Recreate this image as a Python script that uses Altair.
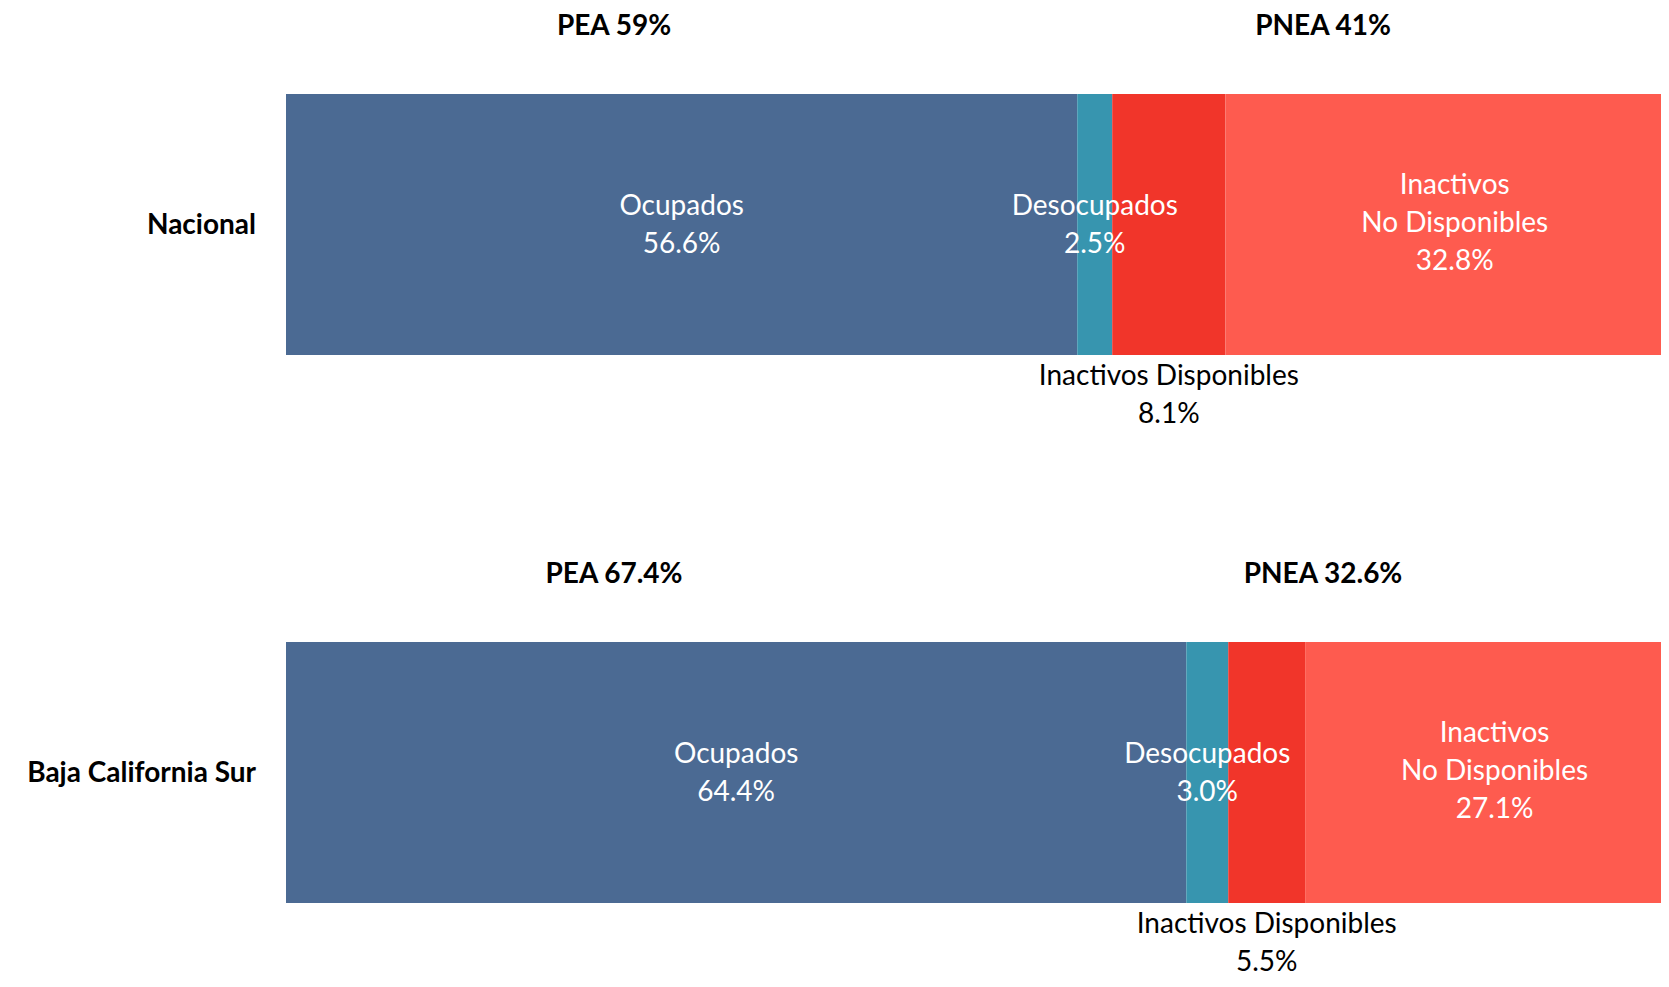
import altair as alt
import pandas as pd

# ---- data ----
categories = ["Nacional", "Baja California Sur"]
segments = ["Ocupados", "Desocupados", "Inactivos Disponibles", "Inactivos No Disponibles"]
segment_labels = ["Ocupados", "Desocupados", "Inactivos Disponibles", "Inactivos\nNo Disponibles"]
nacional = [56.6, 2.5, 8.1, 32.8]
baja_california_sur = [64.4, 3.0, 5.5, 27.1]
pea = [59, 67.4]
pnea = [41, 32.6]

# ---- styles ----
colors = ["#4B6A93", "#3795AF", "#F1352A", "#FE5B4F"]
FONT = "Lato"
FS = 28
LH = 38
PLOT_W = 1375
FULL_W = 1398      # pixel length of 100 %
PLOT_H = 970

rows = []
for cat, vals in zip(categories, [nacional, baja_california_sur]):
    start = 0.0
    for i, (seg, lab, v) in enumerate(zip(segments, segment_labels, vals)):
        end = start + v
        label = f"{lab}\n{v:.1f}%"
        rows.append({
            "cat": cat, "seg": seg, "start": start, "end": end,
            "mid": (start + end) / 2,
            "label": label,
            "nlines": label.count("\n") + 1,
            "below": seg == "Inactivos Disponibles",
        })
        start = end
df = pd.DataFrame(rows)
df_in2 = df[(~df["below"]) & (df["nlines"] == 2)]
df_in3 = df[(~df["below"]) & (df["nlines"] == 3)]
df_below = df[df["below"]]

hdr = pd.DataFrame({
    "cat": categories,
    "pea": [f"PEA {v:g}%" for v in pea],
    "pnea": [f"PNEA {v:g}%" for v in pnea],
})
cats_df = pd.DataFrame({"cat": categories})

xscale = alt.Scale(domain=[0, 100], range=[0, FULL_W])
yscale = alt.Scale(domain=categories, paddingInner=0.5237, paddingOuter=0.1469, align=0.534)
Y = alt.Y("cat:N", scale=yscale, axis=None)

bars = alt.Chart(df).mark_bar(strokeWidth=0).encode(
    x=alt.X("start:Q", scale=xscale, axis=None),
    x2="end:Q",
    y=Y,
    color=alt.Color("seg:N", scale=alt.Scale(domain=segments, range=colors), legend=None),
)

def seg_text(data, color, dy):
    return alt.Chart(data).mark_text(
        font=FONT, fontSize=FS, lineHeight=LH, lineBreak="\n", color=color,
        align="center", baseline="middle", dy=dy,
    ).encode(x=alt.X("mid:Q", scale=xscale), y=Y, text="label:N")

txt_in2 = seg_text(df_in2, "white", -17)
txt_in3 = seg_text(df_in3, "white", -38)
txt_below = seg_text(df_below, "black", 153)

cat_lab = alt.Chart(cats_df).mark_text(
    font=FONT, fontSize=FS, fontWeight="bold", color="black",
    align="right", baseline="middle", dy=2,
).encode(x=alt.value(-30), y=Y, text="cat:N")

pea_txt = alt.Chart(hdr).mark_text(
    font=FONT, fontSize=FS, fontWeight="bold", color="black",
    align="center", baseline="middle", dy=-197,
).encode(x=alt.value(328), y=Y, text="pea:N")

pnea_txt = alt.Chart(hdr).mark_text(
    font=FONT, fontSize=FS, fontWeight="bold", color="black",
    align="center", baseline="middle", dy=-197,
).encode(x=alt.value(1037), y=Y, text="pnea:N")

chart = alt.layer(bars, txt_in2, txt_in3, txt_below, cat_lab, pea_txt, pnea_txt).properties(
    width=PLOT_W, height=PLOT_H,
    autosize=alt.AutoSizeParams(type="none"),
    padding={"left": 278, "top": 0, "right": 0, "bottom": 0},
).configure_view(stroke=None)

chart.save("out.html", embed_options={"renderer": "svg", "actions": False})
